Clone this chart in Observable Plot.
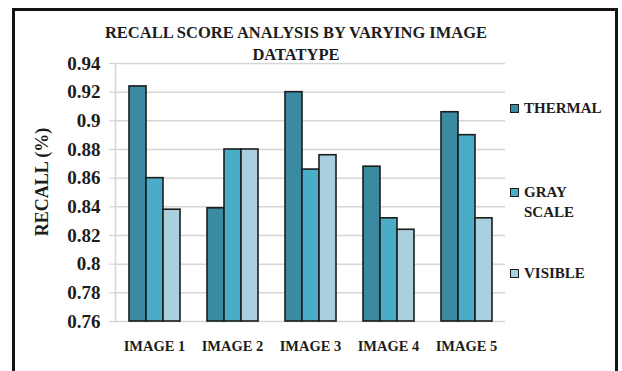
<!DOCTYPE html>
<html>
<head>
<meta charset="utf-8">
<script src="https://cdn.jsdelivr.net/npm/d3@7"></script>
<script src="https://cdn.jsdelivr.net/npm/@observablehq/plot@0.6"></script>
<style>
  html, body { margin: 0; padding: 0; background: #fff; }
  #wrap { position: relative; width: 622px; height: 371px; overflow: hidden;
          font-family: "Liberation Serif", "Times New Roman", serif; font-weight: bold; color: #1c1c1c; }
  #border { position: absolute; left: 12px; top: 8px; width: 600px; height: 420px;
            border: 3px solid #141414; }
  #title { position: absolute; left: 96px; width: 400px; top: 22px; text-align: center;
           font-size: 16.5px; line-height: 22px; }
  #ylabel { position: absolute; left: 42px; top: 182px; font-size: 18px; white-space: nowrap;
            transform: translate(-50%, -50%) rotate(-90deg); }
  #chart { position: absolute; left: 0; top: 0; }
  .legend-item { position: absolute; left: 510px; font-family: "Liberation Serif", serif;
                 font-weight: bold; font-size: 15px; line-height: 20px; }
  .legend-item .sw { position: absolute; left: 0; top: 6px; width: 7px; height: 7px;
                     border: 1.5px solid #1c1c1c; }
  .legend-item .lbl { margin-left: 14px; display: block; }
</style>
</head>
<body>
<div id="wrap">
  <div id="border"></div>
  <div id="chart"></div>
  <div id="title">RECALL SCORE ANALYSIS BY VARYING IMAGE<br>DATATYPE</div>
  <div id="ylabel">RECALL (%)</div>
  <div id="legend"></div>
</div>
<script>
// Recall per image, one array per image datatype
const images = ["IMAGE 1", "IMAGE 2", "IMAGE 3", "IMAGE 4", "IMAGE 5"];
const seriesNames = ["THERMAL", "GRAY SCALE", "VISIBLE"];
const thermal = [0.924, 0.839, 0.920, 0.868, 0.906];
const grayScale = [0.860, 0.880, 0.866, 0.832, 0.890];
const visible = [0.838, 0.880, 0.876, 0.824, 0.832];
const yTicks = [0.76, 0.78, 0.8, 0.82, 0.84, 0.86, 0.88, 0.9, 0.92, 0.94];
const colors = ["#3a8aa2", "#4aadc8", "#aacfde"];

const seriesValues = [thermal, grayScale, visible];
const rows = images.flatMap((image, i) =>
  seriesNames.map((s, k) => ({image, series: s, value: seriesValues[k][i]}))
);

const chart = Plot.plot({
  width: 622,
  height: 371,
  marginTop: 63,
  marginBottom: 50,
  marginLeft: 113,
  marginRight: 116,
  style: {fontFamily: "'Liberation Serif', 'Times New Roman', serif", fontWeight: "bold", color: "#1c1c1c", background: "transparent"},
  fx: {domain: images, paddingInner: 0, paddingOuter: 0, label: null},
  x: {domain: seriesNames, paddingInner: 0, paddingOuter: 0.74, axis: null},
  y: {domain: [0.76, 0.94], label: null},
  color: {domain: seriesNames, range: colors},
  marks: [
    Plot.ruleY(yTicks, {stroke: "#d6d6d6", strokeWidth: 1.5}),
    Plot.frame({anchor: "left", stroke: "#d6d6d6", strokeWidth: 1.5, facetAnchor: "left"}),
    Plot.axisY({
      ticks: yTicks, tickSize: 6, tickPadding: 9, stroke: "#cfcfcf",
      tickFormat: d => d3.format(".2~f")(d), fontSize: 19, fontWeight: "bold", label: null
    }),
    Plot.axisFx({anchor: "bottom", tickSize: 0, tickPadding: 19, fontSize: 14.5, fontWeight: "bold", label: null}),
    Plot.barY(rows, {
      fx: "image", x: "series", y1: 0.76, y2: "value", fill: "series",
      stroke: "#1c1c1c", strokeWidth: 1.6
    })
  ]
});
document.getElementById("chart").append(chart);

// Legend entries to the right of the plot
const legendTops = [98, 182, 263];
const legend = document.getElementById("legend");
seriesNames.forEach((name, k) => {
  const item = document.createElement("div");
  item.className = "legend-item";
  item.style.top = legendTops[k] + "px";
  const sw = document.createElement("span");
  sw.className = "sw";
  sw.style.background = colors[k];
  const lbl = document.createElement("span");
  lbl.className = "lbl";
  lbl.innerHTML = name === "GRAY SCALE" ? "GRAY<br>SCALE" : name;
  item.append(sw, lbl);
  legend.append(item);
});
</script>
</body>
</html>
